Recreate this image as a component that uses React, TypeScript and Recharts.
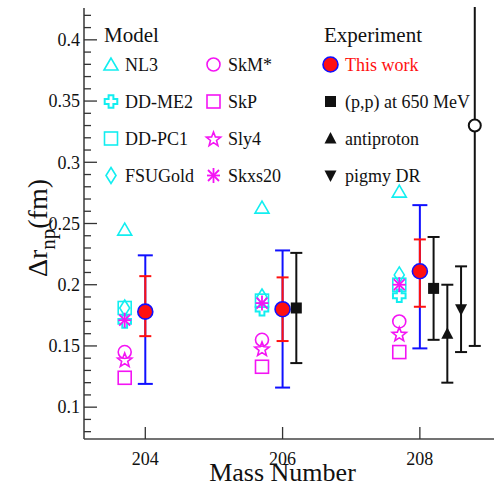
import React from "react";
import { ErrorBar, Legend, Scatter, ScatterChart, XAxis, YAxis } from "recharts";

// x positions (mass number, models are shifted left of the experiment)
const modelMass = [203.7, 205.7, 207.7];
const nl3 = [0.245, 0.263, 0.276];
const ddme2 = [0.17, 0.18, 0.191];
const ddpc1 = [0.181, 0.187, 0.2];
const fsuGold = [0.181, 0.19, 0.208];
const skmStar = [0.145, 0.155, 0.17];
const skp = [0.124, 0.133, 0.145];
const sly4 = [0.139, 0.148, 0.16];
const skxs20 = [0.171, 0.185, 0.2];

const thisMass = [204, 206, 208];
const thisValue = [0.178, 0.18, 0.211];
const thisStatLo = [0.158, 0.154, 0.182];
const thisStatHi = [0.207, 0.206, 0.237];
const thisTotLo = [0.119, 0.116, 0.148];
const thisTotHi = [0.224, 0.228, 0.265];

const ppMass = [206.2, 208.2];
const ppValue = [0.181, 0.197];
const ppLo = [0.136, 0.155];
const ppHi = [0.226, 0.239];

const pbarMass = [208.4];
const pbarValue = [0.16];
const pbarLo = [0.12];
const pbarHi = [0.2];

const pdrMass = [208.6];
const pdrValue = [0.18];
const pdrLo = [0.145];
const pdrHi = [0.215];

const otherMass = [208.8];
const otherValue = [0.33];
const otherLo = [0.15];
const otherHi = [0.51];

const xTicks = [204, 206, 208];
const yTicks = [
  0.08, 0.09, 0.1, 0.11, 0.12, 0.13, 0.14, 0.15, 0.16, 0.17, 0.18, 0.19, 0.2, 0.21, 0.22, 0.23, 0.24,
  0.25, 0.26, 0.27, 0.28, 0.29, 0.3, 0.31, 0.32, 0.33, 0.34, 0.35, 0.36, 0.37, 0.38, 0.39, 0.4, 0.41, 0.42,
];

const CYAN = "#12eef0";
const MAGENTA = "#f414f4";
const RED = "#ff1010";
const BLUE = "#1010ff";
const INK = "#111";
const FONT = "'Liberation Serif', 'Times New Roman', serif";

const pts = (xs: number[], ys: number[]) => xs.map((x, i) => ({ x, y: ys[i] }));
const withErr = (xs: number[], ys: number[], lo: number[], hi: number[], lo2?: number[], hi2?: number[]) =>
  xs.map((x, i) => ({
    x,
    y: ys[i],
    err: [ys[i] - lo[i], hi[i] - ys[i]],
    err2: lo2 && hi2 ? [ys[i] - lo2[i], hi2[i] - ys[i]] : undefined,
  }));

type Kind =
  | "triangle"
  | "plus"
  | "square"
  | "diamond"
  | "circle"
  | "star"
  | "asterisk"
  | "dot"
  | "fsquare"
  | "ftriUp"
  | "ftriDown"
  | "ocircle";

function Marker({ kind, cx, cy, color }: { kind: Kind; cx: number; cy: number; color: string }) {
  const sw = 1.6;
  switch (kind) {
    case "triangle":
      return <polygon points={`${cx},${cy - 6.5} ${cx - 7},${cy + 5.5} ${cx + 7},${cy + 5.5}`} fill="none" stroke={color} strokeWidth={sw} />;
    case "plus": {
      const a = 2.4, r = 6.3;
      const p = [
        [-a, -r], [a, -r], [a, -a], [r, -a], [r, a], [a, a], [a, r], [-a, r], [-a, a], [-r, a], [-r, -a], [-a, -a],
      ].map(([dx, dy]) => `${cx + dx},${cy + dy}`).join(" ");
      return <polygon points={p} fill="none" stroke={color} strokeWidth={2} />;
    }
    case "square":
      return <rect x={cx - 6.5} y={cy - 6.5} width={13} height={13} fill="none" stroke={color} strokeWidth={sw} />;
    case "diamond":
      return <polygon points={`${cx},${cy - 8} ${cx + 5},${cy} ${cx},${cy + 8} ${cx - 5},${cy}`} fill="none" stroke={color} strokeWidth={sw} />;
    case "circle":
      return <circle cx={cx} cy={cy} r={6.5} fill="none" stroke={color} strokeWidth={sw} />;
    case "star": {
      const p: string[] = [];
      for (let k = 0; k < 10; k++) {
        const ang = -Math.PI / 2 + (k * Math.PI) / 5;
        const rr = k % 2 === 0 ? 7.5 : 3.2;
        p.push(`${cx + rr * Math.cos(ang)},${cy + 1 + rr * Math.sin(ang)}`);
      }
      return <polygon points={p.join(" ")} fill="none" stroke={color} strokeWidth={sw} />;
    }
    case "asterisk":
      return (
        <g stroke={color} strokeWidth={1.8}>
          <line x1={cx} y1={cy - 7.5} x2={cx} y2={cy + 7.5} />
          <line x1={cx - 6.5} y1={cy} x2={cx + 6.5} y2={cy} />
          <line x1={cx - 5.5} y1={cy - 5.5} x2={cx + 5.5} y2={cy + 5.5} />
          <line x1={cx - 5.5} y1={cy + 5.5} x2={cx + 5.5} y2={cy - 5.5} />
        </g>
      );
    case "dot":
      return <circle cx={cx} cy={cy} r={7.5} fill={RED} stroke={BLUE} strokeWidth={1.6} />;
    case "fsquare":
      return <rect x={cx - 5.5} y={cy - 5.5} width={11} height={11} fill={INK} />;
    case "ftriUp":
      return <polygon points={`${cx},${cy - 6.5} ${cx - 6},${cy + 5} ${cx + 6},${cy + 5}`} fill={INK} />;
    case "ftriDown":
      return <polygon points={`${cx},${cy + 6.5} ${cx - 6},${cy - 5} ${cx + 6},${cy - 5}`} fill={INK} />;
    case "ocircle":
      return <circle cx={cx} cy={cy} r={6} fill="#fff" stroke={INK} strokeWidth={2} />;
  }
  return null;
}

const shape = (kind: Kind, color: string) => (p: any) => <Marker kind={kind} cx={p.cx} cy={p.cy} color={color} />;

function YTick(props: any) {
  const { x, y, payload } = props;
  const v = payload.value as number;
  const major = Math.abs(v * 20 - Math.round(v * 20)) < 1e-6;
  return (
    <g>
      <line x1={x} x2={x + (major ? 13 : 7)} y1={y} y2={y} stroke="#333" strokeWidth={1.3} />
      {major && (
        <text x={x - 4} y={y} dy="0.35em" textAnchor="end" fontSize={18} fontFamily={FONT} fill={INK}>
          {String(Number(v.toFixed(2)))}
        </text>
      )}
    </g>
  );
}

function XTick(props: any) {
  const { x, y, payload } = props;
  return (
    <g>
      <line x1={x} x2={x} y1={y} y2={y - 12} stroke="#333" strokeWidth={1.3} />
      <text x={x} y={y + 26} textAnchor="middle" fontSize={18} fontFamily={FONT} fill={INK}>
        {payload.value}
      </text>
    </g>
  );
}

const legendRows: Array<[Kind, string, string, Kind, string, string, Kind, string, string]> = [
  ["triangle", CYAN, "NL3", "circle", MAGENTA, "SkM*", "dot", RED, "This work"],
  ["plus", CYAN, "DD-ME2", "square", MAGENTA, "SkP", "fsquare", INK, "(p,p) at 650 MeV"],
  ["square", CYAN, "DD-PC1", "star", MAGENTA, "Sly4", "ftriUp", INK, "antiproton"],
  ["diamond", CYAN, "FSUGold", "asterisk", MAGENTA, "Skxs20", "ftriDown", INK, "pigmy DR"],
];

// legend overlay; also masks the part of the open-circle error bar that runs above the frame
function LegendBox() {
  const rowY = [64.5, 101.5, 138.5, 175.5];
  return (
    <svg width={494} height={200} style={{ overflow: "visible", display: "block" }}>
      <rect x={86} y={0} width={408} height={7} fill="#fff" />
      <g fontFamily={FONT}>
        <text x={104} y={41.5} fontSize={21} fill={INK}>Model</text>
        <text x={324} y={41.5} fontSize={21} fill={INK}>Experiment</text>
        {legendRows.map((r, i) => (
          <g key={i}>
            <Marker kind={r[0]} cx={111} cy={rowY[i]} color={r[1]} />
            <text x={125} y={rowY[i] + 6.5} fontSize={18} fill={INK}>{r[2]}</text>
            <Marker kind={r[3]} cx={213.5} cy={rowY[i]} color={r[4]} />
            <text x={228} y={rowY[i] + 6.5} fontSize={18} fill={INK}>{r[5]}</text>
            <Marker kind={r[6]} cx={330.5} cy={rowY[i]} color={r[7]} />
            <text x={345} y={rowY[i] + 6.5} fontSize={18} fill={r[6] === "dot" ? RED : INK}>{r[8]}</text>
          </g>
        ))}
      </g>
    </svg>
  );
}

export default function App() {
  return (
    <div style={{ position: "absolute", left: 0, top: 0, width: 494, height: 487, background: "#fff" }}>
      <ScatterChart width={494} height={487} margin={{ top: 8, right: 0, bottom: 0, left: 0 }}>
        <XAxis
          type="number"
          dataKey="x"
          domain={[203.107, 209.08]}
          allowDataOverflow
          ticks={xTicks}
          interval={0}
          height={48}
          tickSize={0}
          tickMargin={0}
          tickLine={false}
          tick={<XTick />}
          axisLine={{ stroke: "#444", strokeWidth: 1.6 }}
          label={{
            content: (p: any) => (
              <text x={p.viewBox.x + 198.5} y={p.viewBox.y + 42} textAnchor="middle" fontSize={26} fontFamily={FONT} fill={INK}>
                Mass Number
              </text>
            ),
          }}
        />
        <XAxis
          xAxisId="top"
          orientation="top"
          type="number"
          domain={[203.107, 209.08]}
          height={0}
          tick={false}
          tickLine={false}
          axisLine={{ stroke: "#666", strokeWidth: 2 }}
        />
        <YAxis
          type="number"
          dataKey="y"
          domain={[0.074, 0.426]}
          allowDataOverflow
          ticks={yTicks}
          interval={0}
          width={84}
          tickSize={0}
          tickMargin={0}
          tickLine={false}
          tick={<YTick />}
          axisLine={{ stroke: "#444", strokeWidth: 1.6 }}
          label={{
            content: () => (
              <text
                transform="translate(47,228) rotate(-90)"
                textAnchor="middle"
                fontSize={28}
                fontFamily={FONT}
                fill={INK}
              >
                Δr
                <tspan fontSize={21} dy={8}>np</tspan>
                <tspan dy={-8}>(fm)</tspan>
              </text>
            ),
          }}
        />
        <Legend
          layout="horizontal"
          verticalAlign="middle"
          align="center"
          content={() => <LegendBox />}
          wrapperStyle={{ position: "absolute", left: 0, top: 0, width: 494, height: 200, pointerEvents: "none" }}
        />

        <Scatter name="NL3" data={pts(modelMass, nl3)} shape={shape("triangle", CYAN)} isAnimationActive={false} />
        <Scatter name="DD-PC1" data={pts(modelMass, ddpc1)} shape={shape("square", CYAN)} isAnimationActive={false} />
        <Scatter name="FSUGold" data={pts(modelMass, fsuGold)} shape={shape("diamond", CYAN)} isAnimationActive={false} />
        <Scatter name="DD-ME2" data={pts(modelMass, ddme2)} shape={shape("plus", CYAN)} isAnimationActive={false} />
        <Scatter name="SkM*" data={pts(modelMass, skmStar)} shape={shape("circle", MAGENTA)} isAnimationActive={false} />
        <Scatter name="SkP" data={pts(modelMass, skp)} shape={shape("square", MAGENTA)} isAnimationActive={false} />
        <Scatter name="Sly4" data={pts(modelMass, sly4)} shape={shape("star", MAGENTA)} isAnimationActive={false} />
        <Scatter name="Skxs20" data={pts(modelMass, skxs20)} shape={shape("asterisk", MAGENTA)} isAnimationActive={false} />

        <Scatter
          name="This work"
          data={withErr(thisMass, thisValue, thisTotLo, thisTotHi, thisStatLo, thisStatHi)}
          shape={shape("dot", RED)}
          isAnimationActive={false}
        >
          <ErrorBar dataKey="err" direction="y" width={7.5} stroke={BLUE} strokeWidth={2} isAnimationActive={false} />
          <ErrorBar dataKey="err2" direction="y" width={6} stroke={RED} strokeWidth={2} isAnimationActive={false} />
        </Scatter>
        <Scatter name="(p,p) at 650 MeV" data={withErr(ppMass, ppValue, ppLo, ppHi)} shape={shape("fsquare", INK)} isAnimationActive={false}>
          <ErrorBar dataKey="err" direction="y" width={6} stroke={INK} strokeWidth={2} isAnimationActive={false} />
        </Scatter>
        <Scatter name="antiproton" data={withErr(pbarMass, pbarValue, pbarLo, pbarHi)} shape={shape("ftriUp", INK)} isAnimationActive={false}>
          <ErrorBar dataKey="err" direction="y" width={6} stroke={INK} strokeWidth={2} isAnimationActive={false} />
        </Scatter>
        <Scatter name="pigmy DR" data={withErr(pdrMass, pdrValue, pdrLo, pdrHi)} shape={shape("ftriDown", INK)} isAnimationActive={false}>
          <ErrorBar dataKey="err" direction="y" width={6} stroke={INK} strokeWidth={2} isAnimationActive={false} />
        </Scatter>
        <Scatter name="other" data={withErr(otherMass, otherValue, otherLo, otherHi)} shape={shape("ocircle", INK)} isAnimationActive={false}>
          <ErrorBar dataKey="err" direction="y" width={6} stroke={INK} strokeWidth={2} isAnimationActive={false} />
        </Scatter>
      </ScatterChart>
    </div>
  );
}
